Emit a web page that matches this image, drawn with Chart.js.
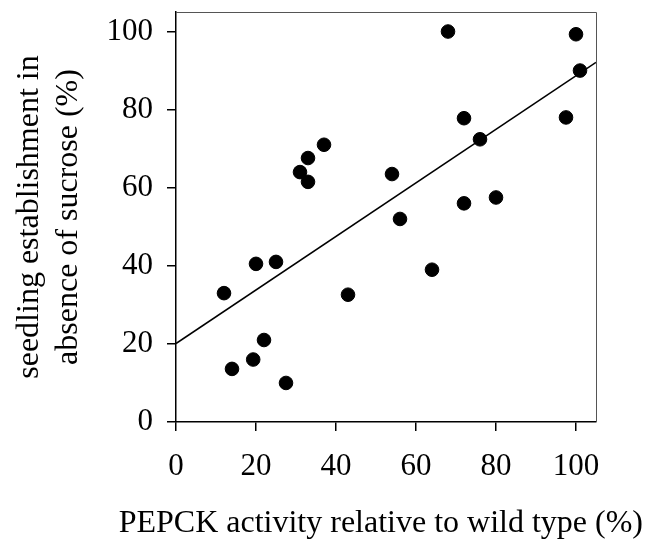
<!DOCTYPE html>
<html>
<head>
<meta charset="utf-8">
<script src="https://cdn.jsdelivr.net/npm/chart.js@4/dist/chart.umd.min.js"></script>
<style>
  html, body { margin: 0; padding: 0; background: #fff; }
  #wrap { width: 654px; height: 540px; }
</style>
</head>
<body>
<div id="wrap"><canvas id="chart" width="654" height="540"></canvas></div>
<script>
// PEPCK activity (% of wild type) vs seedling establishment without sucrose (%)
const pepck = [12, 14, 19.3, 20, 22, 25, 27.5, 31, 33, 33, 37, 43, 54, 56, 64, 68, 72, 72, 76, 80, 97.5, 100, 101];
const establishment = [33, 13.6, 16, 40.5, 21, 41, 10, 64, 61.5, 67.6, 71, 32.6, 63.5, 52, 39, 100, 77.8, 56, 72.4, 57.5, 78, 99.3, 90];

// fitted regression line, read at both ends of the plot
const fitX = [0, 105];
const fitY = [20.1, 92.1];

const tickVals = [0, 20, 40, 60, 80, 100];

const xTitle = 'PEPCK activity relative to wild type (%)';
const yTitle = ['seedling establishment in', 'absence of sucrose (%)'];

const FONT = 'Liberation Serif, Times New Roman, serif';

const points = pepck.map((x, i) => ({ x, y: establishment[i] }));
const fitLine = fitX.map((x, i) => ({ x, y: fitY[i] }));

// top and right edges of the frame are a thin grey line
const framePlugin = {
  id: 'frame',
  afterDraw(chart) {
    const { ctx, chartArea: a } = chart;
    ctx.save();
    ctx.strokeStyle = '#555';
    ctx.lineWidth = 1;
    ctx.beginPath();
    ctx.moveTo(a.left, a.top + 0.5);
    ctx.lineTo(a.right + 0.5, a.top + 0.5);
    ctx.lineTo(a.right + 0.5, a.bottom);
    ctx.stroke();
    ctx.restore();
  },
};

function fixedTicks(axis) {
  axis.ticks = tickVals.map(v => ({ value: v }));
}

// fixed box size, and no extra room reserved for end labels
function fixSize(size) {
  return scale => {
    if (scale.isHorizontal()) scale.height = size;
    else scale.width = size;
    scale.paddingTop = scale.paddingBottom = scale.paddingLeft = scale.paddingRight = 0;
  };
}

function axisOpts(size, tickPad) {
  return {
    type: 'linear',
    min: 0,
    max: 105,
    afterBuildTicks: fixedTicks,
    border: { display: true, color: '#000', width: 1.5 },
    grid: { drawOnChartArea: false, drawTicks: true, tickLength: 9, color: '#000', lineWidth: 1.5 },
    ticks: { color: '#000', font: { family: FONT, size: 31 }, padding: tickPad },
    afterFit: fixSize(size),
  };
}

const xAxis = axisOpts(86, 17);
const yAxis = axisOpts(176, 14);
yAxis.title = {
  display: true,
  text: yTitle,
  color: '#000',
  font: { family: FONT, size: 32, lineHeight: 1.19 },
  padding: { top: 11, bottom: 0 },
};

new Chart(document.getElementById('chart'), {
  type: 'scatter',
  data: {
    datasets: [
      {
        label: 'fit',
        type: 'line',
        data: fitLine,
        borderColor: '#000',
        borderWidth: 1.5,
        pointRadius: 0,
        fill: false,
        order: 1,
      },
      {
        label: 'lines',
        data: points,
        backgroundColor: '#000',
        borderColor: '#000',
        pointRadius: 6.8,
        pointHoverRadius: 6.8,
        order: 0,
      },
    ],
  },
  options: {
    responsive: false,
    animation: false,
    layout: { padding: { top: 12, right: 11, left: 0, bottom: 0 } },
    plugins: {
      legend: { display: false },
      tooltip: { enabled: false },
      // x axis title drawn as a chart title so it may run wider than the plot
      title: {
        display: true,
        position: 'bottom',
        align: 'end',
        text: xTitle,
        color: '#000',
        font: { family: FONT, size: 32, weight: 'normal', lineHeight: 1.0 },
        padding: { top: 0, bottom: 0 },
      },
    },
    scales: {
      x: xAxis,
      y: yAxis,
      // empty right-hand box keeps the plot edge at the same place
      spacer: {
        type: 'linear',
        position: 'right',
        display: true,
        grid: { display: false },
        ticks: { display: false },
        border: { display: false },
        afterFit: fixSize(47),
      },
    },
  },
  plugins: [framePlugin],
});
</script>
</body>
</html>
